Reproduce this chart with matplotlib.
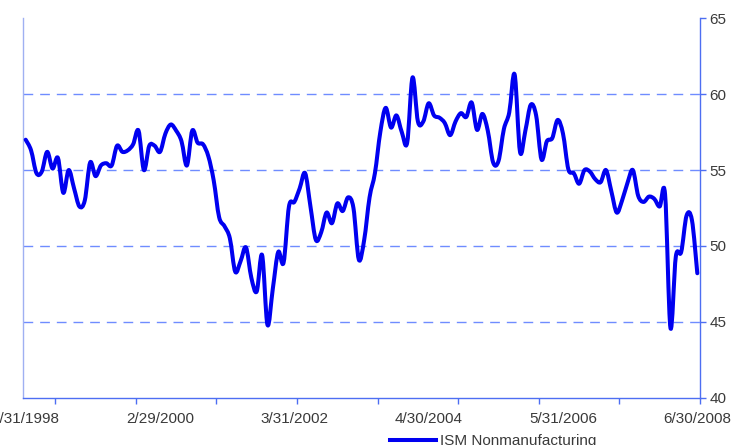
import numpy as np
import matplotlib
matplotlib.use("Agg")
import matplotlib.pyplot as plt
from matplotlib.path import Path
from matplotlib.patches import PathPatch
from matplotlib.lines import Line2D

# ISM Nonmanufacturing, monthly, Jan 1998 .. Jun 2008
ism_values = [
    57.0, 56.3, 54.8, 54.9, 56.2, 55.1, 55.8, 53.5, 55.0, 53.8,
    52.6, 53.0, 55.5, 54.6, 55.3, 55.45, 55.3, 56.6, 56.2, 56.3,
    56.7, 57.6, 55.0, 56.6, 56.6, 56.2, 57.4, 58.0, 57.6, 56.9,
    55.3, 57.6, 56.8, 56.7, 55.9, 54.3, 51.9, 51.3, 50.5, 48.3,
    49.0, 49.9, 47.9, 47.0, 49.4, 44.8, 47.2, 49.6, 48.9, 52.6,
    52.9, 53.8, 54.8, 52.6, 50.4, 50.9, 52.2, 51.5, 52.8, 52.3,
    53.2, 52.5, 49.1, 50.4, 53.2, 54.8, 57.5, 59.1, 57.8, 58.6,
    57.5, 56.8, 61.1, 58.2, 58.2, 59.4, 58.6, 58.45, 58.1, 57.3,
    58.2, 58.75, 58.5, 59.45, 57.65, 58.7, 57.6, 55.5, 55.6, 57.7,
    58.8, 61.3, 56.2, 57.6, 59.3, 58.6, 55.7, 56.9, 57.1, 58.3,
    57.4, 55.05, 54.8, 54.1, 55.0, 54.9, 54.4, 54.2, 55.0, 53.6,
    52.2, 53.0, 54.15, 55.0, 53.3, 52.9, 53.25, 53.1, 52.6, 53.4,
    44.6, 49.3, 49.6, 52.0, 51.7, 48.2,
]
date_labels = ["1/31/1998", "2/29/2000", "3/31/2002", "4/30/2004",
               "5/31/2006", "6/30/2008"]
y_ticks = [40, 45, 50, 55, 60, 65]
grid_levels = [45, 50, 55, 60]
series_name = "ISM Nonmanufacturing"

LINE = "#0000f0"
AXIS = "#4d6ef2"
GRID = "#6f8cff"
TEXT = "#3a3a3a"

plt.rcParams["font.family"] = ["Liberation Sans", "DejaVu Sans"]

n = len(ism_values)
x = np.arange(n, dtype=float)
y = np.asarray(ism_values, dtype=float)


def smooth_path(xs, ys):
    """Excel-style smoothed line: Catmull-Rom converted to cubic Beziers."""
    pts = np.column_stack([xs, ys])
    ext = np.vstack([pts[0], pts, pts[-1]])
    verts = [pts[0]]
    codes = [Path.MOVETO]
    for i in range(len(pts) - 1):
        p0, p1, p2, p3 = ext[i], ext[i + 1], ext[i + 2], ext[i + 3]
        c1 = p1 + (p2 - p0) / 6.0
        c2 = p2 - (p3 - p1) / 6.0
        verts += [c1, c2, p2]
        codes += [Path.CURVE4] * 3
    return Path(verts, codes)


fig = plt.figure(figsize=(7.33, 4.45), dpi=100)
ax = fig.add_axes([23 / 733, 1 - 397.7 / 445, 677 / 733, (397.7 - 18.3) / 445])

for lvl in grid_levels:
    ax.axhline(lvl, color=GRID, lw=1.0, dashes=(7, 5), zorder=1)

ax.add_patch(PathPatch(smooth_path(x, y), fill=False, edgecolor=LINE,
                       lw=2.9, capstyle="round", joinstyle="round", zorder=3))

ax.set_xlim(-0.5, n - 0.5)
ax.set_ylim(40, 65)

# spines
ax.spines["top"].set_visible(False)
ax.spines["left"].set_color("#9fb0f2")
ax.spines["bottom"].set_color(AXIS)
ax.spines["right"].set_color(AXIS)
for s in ("left", "bottom", "right"):
    ax.spines[s].set_linewidth(1.0)

# y axis on the right
ax.yaxis.tick_right()
ax.set_yticks(y_ticks)
ax.set_yticklabels([str(v) for v in y_ticks])
ax.tick_params(axis="y", direction="out", length=4, width=1, color=AXIS,
               labelsize=11, labelcolor=TEXT, pad=3)

# x axis: labels every 25 months, tick marks every 15 months from the right edge
ax.set_xticks(np.arange(0, n, 25))
ax.set_xticklabels(date_labels)
ax.set_xticks(np.arange(n - 0.5, -0.5, -15), minor=True)
ax.tick_params(axis="x", which="major", length=0, labelsize=11,
               labelcolor=TEXT, pad=10)
ax.tick_params(axis="x", which="minor", direction="out", length=4, width=1,
               color=AXIS)

handle = Line2D([], [], color=LINE, lw=2.9)
fig.legend([handle], [series_name], loc="center left",
           bbox_to_anchor=(390 / 733, 1 - 441 / 445), frameon=False,
           borderpad=0, borderaxespad=0, handlelength=3.0, handletextpad=0.25,
           fontsize=11, labelcolor=TEXT)

fig.savefig("out.png", dpi=100)
